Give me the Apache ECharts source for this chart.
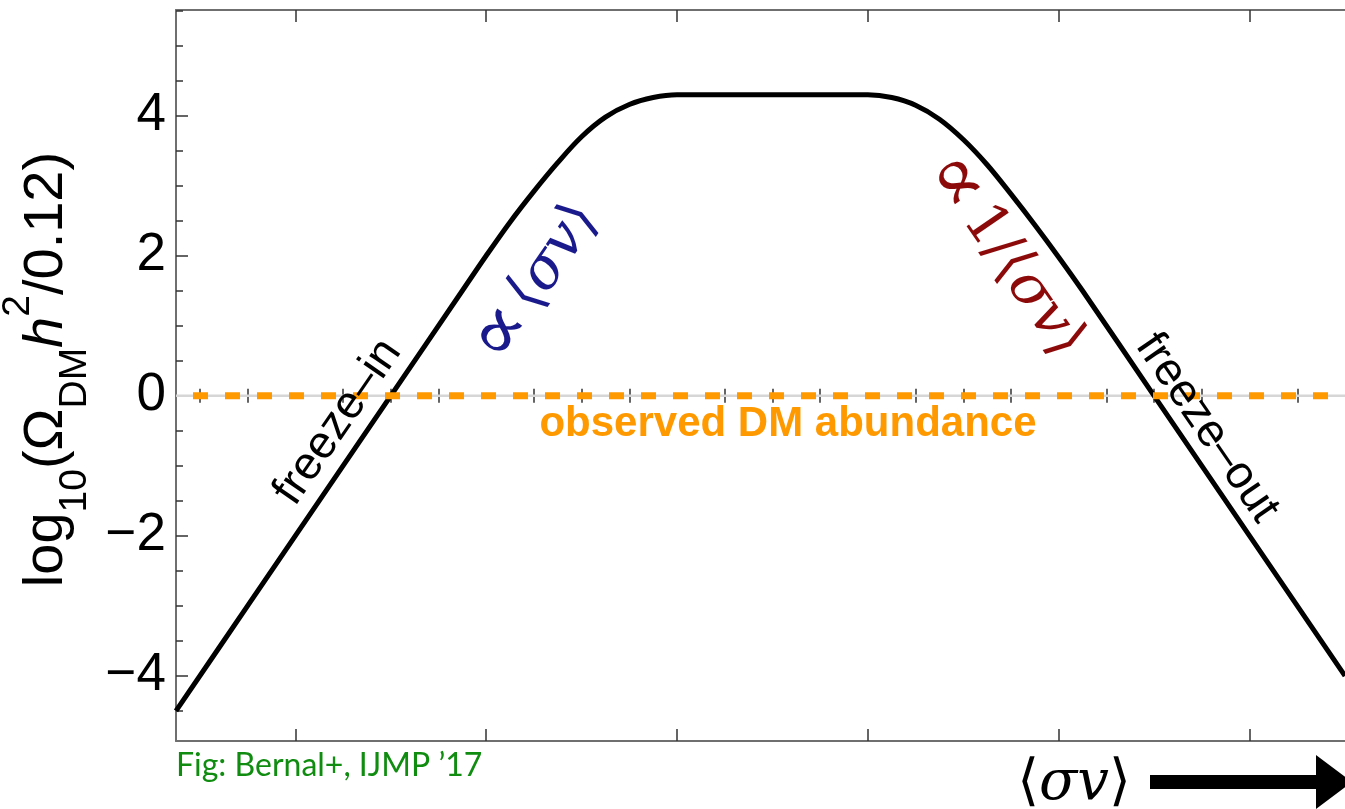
<!DOCTYPE html>
<html><head><meta charset="utf-8">
<script src="https://cdn.jsdelivr.net/npm/echarts@6/dist/echarts.min.js"></script>
<style>html,body{margin:0;padding:0;background:#fff}#c{width:1345px;height:809px}</style>
</head><body><div id="c"></div>
<script>
// ---- data ----
const curveX = [1.5, 3, 4.5, 6, 7.5, 8, 8.5, 9, 9.5, 10, 10.5, 11, 11.5, 12, 12.5, 13, 14, 15, 15.5, 16, 16.5, 17, 17.5, 18, 18.5, 19, 19.5, 20, 20.5, 22, 24, 26];
const curveY = [-4.5, -3, -1.5, 0, 1.5, 2.0, 2.48, 2.92, 3.33, 3.70, 3.98, 4.16, 4.26, 4.30, 4.30, 4.30, 4.30, 4.30, 4.30, 4.30, 4.26, 4.15, 3.95, 3.66, 3.30, 2.88, 2.44, 1.98, 1.5, 0, -2, -4];
const observedLevel = 0;
const xRange = [1.5, 26];
const yRange = [-4.93, 5.51];
const xMajorTicks = [4, 8, 12, 16, 20, 24];
const xMinorTicks = [2, 3, 5, 6, 7, 9, 10, 11, 13, 14, 15, 17, 18, 19, 21, 22, 23, 25];
const yMajorTicks = [-4, -2, 0, 2, 4];
const yMinorTicks = [-4.5, -3.5, -3, -2.5, -1.5, -1, -0.5, 0.5, 1, 1.5, 2.5, 3, 3.5, 4.5, 5, 5.5];

const curveData = curveX.map((x, i) => [x, curveY[i]]);
const obsData = [[xRange[0], observedLevel], [xRange[1], observedLevel]];

const chart = echarts.init(document.getElementById('c'), null, {renderer: 'canvas'});
const axisLine = {show: true, onZero: false, lineStyle: {color: '#6f6f6f', width: 2}};
const tickLine = {color: '#333', width: 1.5};
function xAx(pos, ticks, len, showLine) {
  return {type: 'value', position: pos, min: xRange[0], max: xRange[1], offset: 0,
    axisLine: showLine ? axisLine : {show: false},
    axisTick: {show: true, inside: true, length: len, customValues: ticks, lineStyle: tickLine},
    axisLabel: {show: false, customValues: ticks},
    splitLine: {show: false}};
}
const SANS = 'Liberation Sans, Arial, sans-serif';
const SERIF = 'DejaVu Serif, Liberation Serif, serif';
function mathRich(color, size) {
  return {
    a: {fontSize: size, fontFamily: SERIF, fill: color},
    p: {fontSize: size * 1.4, fontFamily: SERIF, fill: color, padding: [0, 8, 0, 0]},
    i: {fontSize: size, fontFamily: SERIF, fontStyle: 'italic', fill: color}
  };
}
const option = {
  backgroundColor: '#fff',
  animation: false,
  grid: {left: 176, top: 10, bottom: 68, right: 0, containLabel: false, outerBoundsMode: 'none'},
  xAxis: [xAx('bottom', xMajorTicks, 12, true), xAx('bottom', xMinorTicks, 7, false),
          xAx('top', xMajorTicks, 12, true), xAx('top', xMinorTicks, 7, false)],
  yAxis: [
    {type: 'value', position: 'left', min: yRange[0], max: yRange[1],
     axisLine: axisLine,
     axisTick: {show: true, inside: true, length: 12, customValues: yMajorTicks, lineStyle: tickLine},
     axisLabel: {show: true, customValues: yMajorTicks, margin: 10, color: '#000', fontSize: 53, fontFamily: SANS,
                 formatter: v => String(v).replace('-', '\u2212')},
     splitLine: {show: false},
     name: '{n|log}{s|10}{n|(\u03A9}{s|DM}{i|h}{p|2}{n|/0.12)}',
     nameLocation: 'middle', nameRotate: 90, nameGap: 69,
     nameTextStyle: {color: '#000', fontFamily: SANS, fontSize: 56, padding: [0, 0, 0, 12],
       rich: {
         n: {fontSize: 56, lineHeight: 96, fontFamily: SANS, color: '#000'},
         i: {fontSize: 56, lineHeight: 96, fontFamily: SANS, fontStyle: 'italic', color: '#000'},
         s: {fontSize: 39, lineHeight: 62, verticalAlign: 'bottom', fontFamily: SANS, color: '#000'},
         p: {fontSize: 39, lineHeight: 46, verticalAlign: 'top', fontFamily: SANS, color: '#000'}
       }}},
    {type: 'value', position: 'left', min: yRange[0], max: yRange[1], offset: 0,
     axisLine: {show: false},
     axisTick: {show: true, inside: true, length: 7, customValues: yMinorTicks, lineStyle: tickLine},
     axisLabel: {show: false, customValues: yMinorTicks},
     splitLine: {show: false}}
  ],
  series: [
    {type: 'line', data: obsData, symbol: 'none', z: 1, silent: true,
     lineStyle: {color: '#d6d6d6', width: 2.5}},
    {type: 'line', data: curveData, symbol: 'none', z: 2, smooth: 0.35,
     lineStyle: {color: '#000', width: 5}},
    {type: 'line', data: obsData, symbol: 'none', z: 3, silent: true,
     lineStyle: {color: '#ff9900', width: 7, type: [15, 17], dashOffset: 15, cap: 'butt'}}
  ],
  graphic: [
    {type: 'text', x: 338, y: 422, rotation: 55.5 * Math.PI / 180, z: 10,
     style: {text: 'freeze\u2013in', fontSize: 46, fontFamily: SANS, fill: '#000', align: 'center', verticalAlign: 'middle'}},
    {type: 'text', x: 1207, y: 428, rotation: -55.5 * Math.PI / 180, z: 10,
     style: {text: 'freeze\u2013out', fontSize: 46, fontFamily: SANS, fill: '#000', align: 'center', verticalAlign: 'middle'}},
    {type: 'text', x: 788, y: 424, z: 10,
     style: {text: 'observed DM abundance', fontSize: 42, fontWeight: 'bold', fontFamily: SANS, fill: '#ff9900', align: 'center', verticalAlign: 'middle'}},
    {type: 'text', x: 537, y: 283, rotation: 55.5 * Math.PI / 180, z: 10,
     style: {text: '{p|\u221D}{a|\u27E8}{i|\u03C3v}{a|\u27E9}', align: 'center', verticalAlign: 'middle',
       rich: mathRich('#1a1a8c', 57)}},
    {type: 'text', x: 1005, y: 256, rotation: -55.5 * Math.PI / 180, z: 10,
     style: {text: '{p|\u221D}{a|1/\u27E8}{i|\u03C3v}{a|\u27E9}', align: 'center', verticalAlign: 'middle',
       rich: mathRich('#8c0a0a', 57)}},
    {type: 'text', x: 176, y: 766, z: 10,
     style: {text: 'Fig: Bernal+, IJMP \u201917', fontSize: 32, fontFamily: 'Lato, Open Sans, sans-serif', fill: '#108c10', align: 'left', verticalAlign: 'middle'}},
    {type: 'text', x: 1074, y: 784, z: 10,
     style: {text: '{a|\u27E8}{i|\u03C3v}{a|\u27E9}', align: 'center', verticalAlign: 'middle',
       rich: {a: {fontSize: 56, fontFamily: SERIF, fill: '#000'}, i: {fontSize: 56, fontFamily: SERIF, fontStyle: 'italic', fill: '#000'}}}},
    {type: 'polygon', z: 10,
     shape: {points: [[1150, 775], [1316, 775], [1316, 755], [1352, 782], [1316, 809], [1316, 789], [1150, 789]]},
     style: {fill: '#000'}}
  ]
};
chart.setOption(option);
</script>
</body></html>
